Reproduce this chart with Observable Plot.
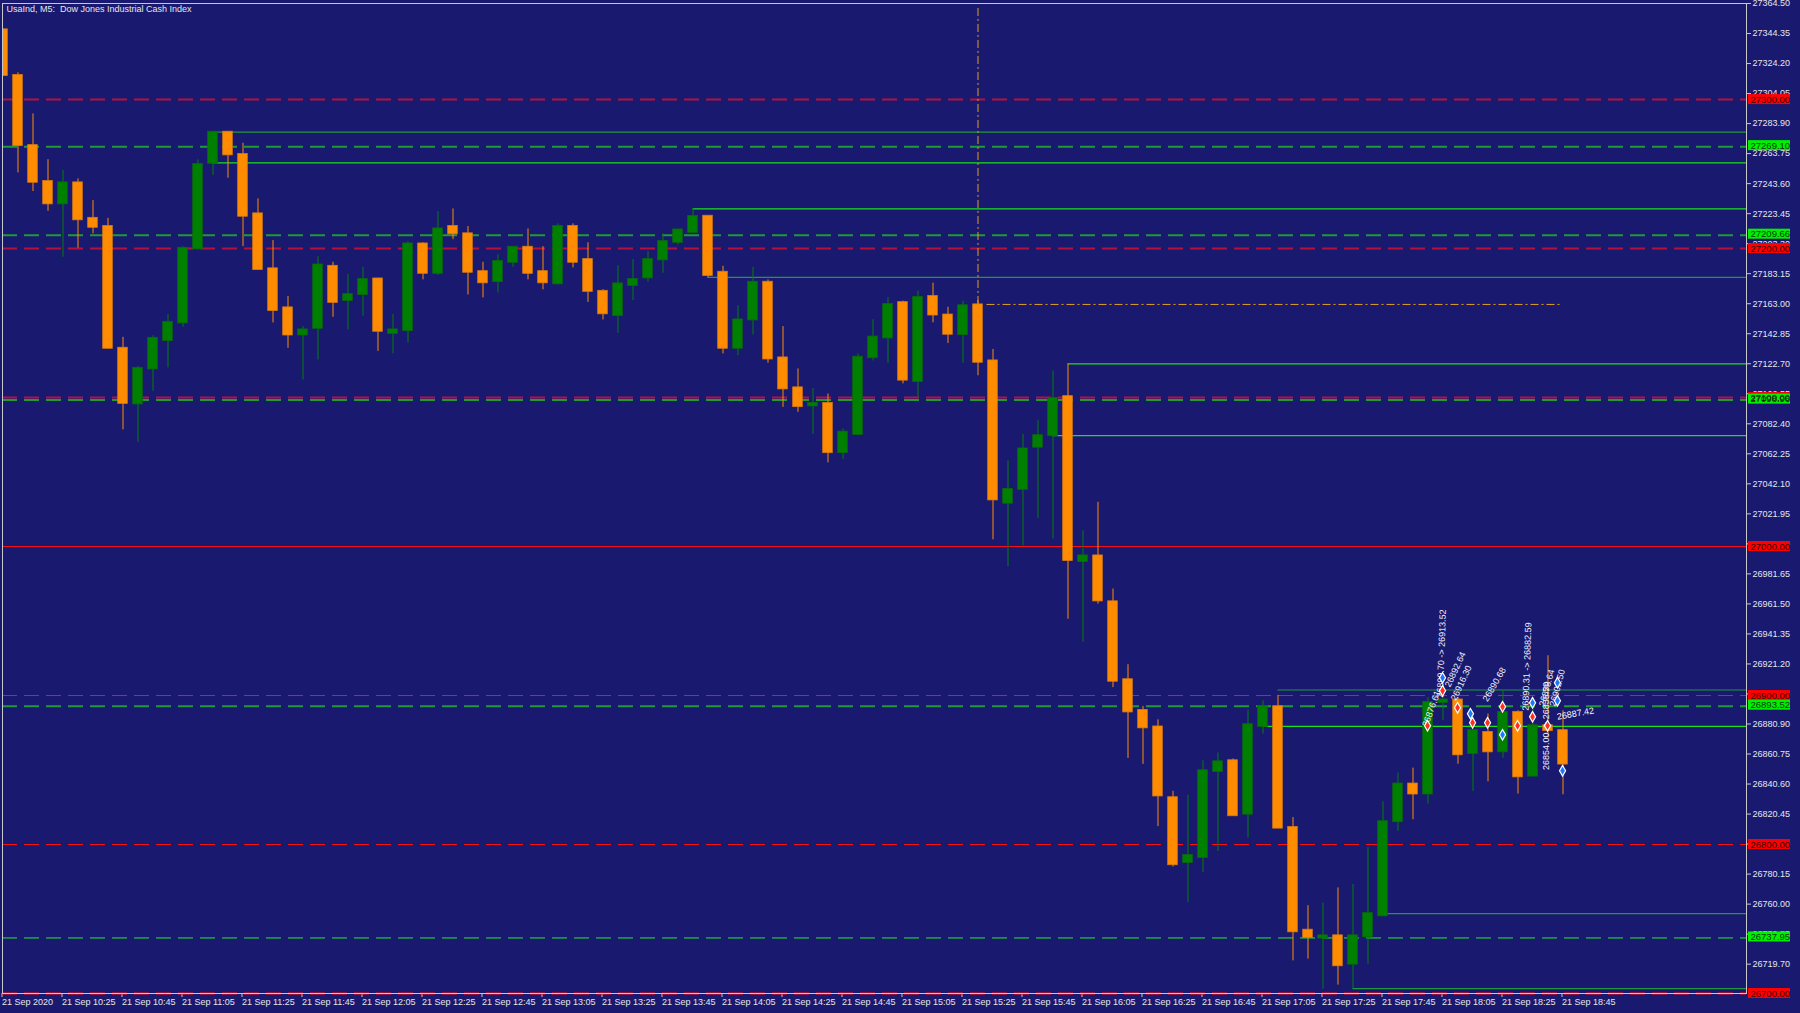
<!DOCTYPE html>
<html><head><meta charset="utf-8">
<script src="https://cdn.jsdelivr.net/npm/d3@7"></script>
<script src="https://cdn.jsdelivr.net/npm/@observablehq/plot@0.6"></script>
<style>
html,body{margin:0;padding:0;background:#191970;overflow:hidden}
#chart svg{display:block}
</style></head><body><div id="chart"></div>
<script>
// ---- data (UsaInd M5, 21 Sep 2020, 10:05 .. 18:45) ----
const opens = [27346.8,27316.2,27269.1,27245.0,27230.0,27244.1,27220.3,27214.8,27133.1,27095.7,
27119.2,27138.2,27150.1,27199.8,27257.3,27278.1,27263.1,27223.3,27186.4,27160.2,
27142.0,27146.5,27188.1,27165.1,27169.1,27179.6,27143.1,27144.9,27203.1,27183.4,
27214.8,27209.9,27184.5,27177.8,27190.8,27200.9,27184.5,27176.3,27214.8,27192.6,
27171.3,27155.0,27175.2,27180.3,27192.4,27204.2,27210.9,27221.7,27184.1,27133.1,
27152.1,27177.4,27126.6,27106.5,27094.4,27096.0,27063.0,27075.3,27126.7,27140.0,
27163.7,27110.8,27167.8,27155.4,27142.2,27162.2,27124.6,27029.1,27038.4,27066.7,
27074.4,27100.6,26990.0,26993.7,26962.9,26910.6,26890.0,26878.9,26831.4,26787.9,
26791.3,26849.0,26856.2,26820.4,26879.3,26892.5,26811.4,26742.5,26737.2,26738.7,
26719.7,26738.0,26752.1,26815.3,26840.6,26833.9,26895.4,26897.0,26861.1,26875.2,
26862.2,26888.7,26845.9,26879.7,26876.4];
const highs = [27347.5,27318.0,27290.4,27259.6,27252.4,27246.8,27232.2,27220.3,27140.4,27120.8,
27141.6,27155.7,27201.3,27259.6,27278.6,27278.6,27270.7,27233.4,27205.4,27167.8,
27147.6,27194.6,27190.8,27182.5,27187.4,27180.0,27155.7,27204.7,27203.9,27224.8,
27226.6,27214.8,27190.8,27195.8,27200.9,27213.2,27201.3,27216.6,27216.6,27203.9,
27172.4,27188.6,27192.6,27198.0,27209.9,27212.5,27226.6,27222.0,27188.1,27161.7,
27187.4,27179.0,27147.6,27119.2,27106.1,27102.4,27078.9,27129.2,27152.3,27167.1,
27164.7,27171.4,27176.8,27160.6,27164.7,27165.1,27132.3,27057.4,27075.3,27084.5,
27117.8,27122.4,27010.6,27029.7,26971.5,26920.7,26892.7,26883.7,26835.7,26833.0,
26856.2,26861.4,26857.4,26890.2,26896.5,26900.1,26818.1,26758.9,26760.7,26770.9,
26773.2,26798.0,26828.6,26848.0,26851.3,26898.7,26913.5,26898.7,26888.7,26887.6,
26903.7,26889.8,26898.7,26926.7,26889.8];
const lows = [27315.5,27250.8,27238.3,27225.0,27194.2,27200.2,27209.9,27132.6,27078.3,27069.9,
27104.2,27119.9,27147.2,27199.1,27249.0,27247.2,27201.3,27185.5,27150.1,27133.1,
27111.8,27125.3,27153.9,27145.4,27154.6,27131.0,27129.3,27136.7,27179.0,27181.9,
27206.0,27168.9,27166.9,27170.3,27187.4,27179.0,27172.3,27175.8,27187.0,27163.9,
27152.1,27143.1,27165.1,27177.4,27183.4,27202.5,27210.9,27180.3,27129.3,27128.1,
27142.0,27123.0,27093.4,27090.1,27075.3,27056.2,27058.4,27074.4,27124.6,27123.0,
27109.2,27099.9,27150.2,27136.3,27123.0,27114.6,27004.5,26986.6,27000.5,27018.9,
27005.1,26951.2,26935.8,26961.4,26905.3,26857.8,26853.8,26812.0,26784.9,26761.1,
26781.2,26795.3,26819.3,26804.4,26874.1,26811.0,26721.9,26723.1,26702.9,26705.6,
26703.3,26719.7,26752.1,26808.8,26816.6,26827.1,26883.1,26853.9,26835.6,26842.1,
26857.9,26833.9,26845.9,26871.6,26833.4];
const closes = [27316.2,27269.1,27244.5,27230.0,27244.1,27219.3,27214.3,27133.1,27096.1,27119.6,
27139.8,27150.5,27200.2,27256.4,27278.1,27262.9,27221.7,27185.9,27158.4,27142.0,
27145.4,27189.0,27163.9,27169.1,27179.2,27144.5,27145.4,27203.1,27183.4,27213.2,
27209.9,27184.1,27177.0,27191.3,27200.9,27183.4,27177.0,27214.8,27190.8,27171.3,
27156.2,27176.3,27179.2,27192.6,27204.7,27212.5,27221.5,27181.9,27133.1,27152.1,
27177.4,27125.9,27105.8,27093.9,27096.0,27063.0,27076.8,27127.1,27140.6,27162.5,
27111.7,27167.1,27155.4,27142.5,27161.6,27123.7,27031.3,27038.4,27065.5,27074.4,
27099.3,26990.6,26993.7,26963.5,26909.6,26889.0,26878.3,26832.6,26786.4,26792.6,
26849.5,26855.5,26819.3,26880.4,26892.7,26811.0,26741.4,26737.6,26738.7,26718.6,
26738.7,26753.6,26815.3,26840.6,26833.9,26895.4,26897.0,26860.2,26876.4,26862.2,
26888.7,26845.4,26879.7,26876.4,26854.0];

const xTickIdx = [0,4,8,12,16,20,24,28,32,36,40,44,48,52,56,60,64,68,72,76,80,84,88,92,96,100,104];
const xTickLabels = ["21 Sep 2020","21 Sep 10:25","21 Sep 10:45","21 Sep 11:05","21 Sep 11:25","21 Sep 11:45",
"21 Sep 12:05","21 Sep 12:25","21 Sep 12:45","21 Sep 13:05","21 Sep 13:25","21 Sep 13:45","21 Sep 14:05",
"21 Sep 14:25","21 Sep 14:45","21 Sep 15:05","21 Sep 15:25","21 Sep 15:45","21 Sep 16:05","21 Sep 16:25",
"21 Sep 16:45","21 Sep 17:05","21 Sep 17:25","21 Sep 17:45","21 Sep 18:05","21 Sep 18:25","21 Sep 18:45"];
const yTicks = [27364.50,27344.35,27324.20,27304.05,27283.90,27263.75,27243.60,27223.45,27203.30,27183.15,
27163.00,27142.85,27122.70,27102.55,27082.40,27062.25,27042.10,27021.95,27001.80,26981.65,26961.50,
26941.35,26921.20,26901.05,26880.90,26860.75,26840.60,26820.45,26800.30,26780.15,26760.00,26739.85,26719.70];

// horizontal price levels
const redDashLevels = [27300.00, 27200.00, 27100.00, 26900.00, 26800.00, 26700.00];
const redDashWidths = [2, 2, 2, 1, 1, 2];
const greenDashLevels = [27269.10, 27209.66, 27098.96, 26893.52, 26737.95];
const greenDashWidths = [2, 2, 2, 2, 1];
const redSolidLevels = [27000.00];
// box levels starting at a bar and running to the right edge
const boxStart = [14, 14, 46, 47, 71, 70, 85, 84, 92, 90];
const boxLevel = [27278.1, 27257.5, 27226.6, 27180.7, 27122.6, 27074.4, 26903.7, 26879.3, 26753.6, 26703.3];
const boxBright = [false, true, true, false, true, true, false, true, false, false];
// price labels on the right axis
const labelValues = [27300.00, 27269.10, 27209.66, 27200.00, 27100.00, 27098.96, 27000.00, 26900.00, 26893.52, 26800.00, 26737.95, 26700.00];
const labelKinds  = ["r","g","g","r","r","g","r","r","g","r","g","r"];
// crosshair-like dash-dot marker
const markBar = 65, markEndBar = 104, markPrice = 27162.5, markTop = 27362.5;
// trade annotations
const annI = [94.8, 95.8, 96.3, 96.7, 98.8, 101.5, 102.6, 103.3, 103.6, 102.9];
const annV = [26879.3, 26898.5, 26906.0, 26897.0, 26896.5, 26889.8, 26893.0, 26893.0, 26885.6, 26850.0];
const annT = ["26876.61","26899.70 -> 26913.52","26892.64","26916.30","26890.68","26890.31 -> 26882.59","26878.64","26902.50","26887.42","26854.00 -> 26835.50"];
const annR = [-70, -88, -65, -65, -60, -88, -75, -75, -10, -90];
const tradeI = [94.97,95.97,95.97,96.97,97.97,97.83,98.97,99.97,99.97,100.97,101.97,101.97,102.97,103.63,103.63,103.97];
const tradeV = [26879.7,26903.2,26911.9,26891.8,26881.7,26887.8,26881.7,26892.5,26873.7,26879.7,26885.7,26895.1,26879.7,26908.6,26896.5,26849.5];
const tradeSide = ["s","s","b","s","s","b","s","s","b","s","s","b","s","b","b","b"];

// ---- build tables ----
const candles = opens.map((o, i) => ({i, o, h: highs[i], l: lows[i], c: closes[i]}));
const ORANGE = "#ff8c00", GREEN = "#008000";
const col = d => d.c >= d.o ? GREEN : ORANGE;
const W = 1800, H = 1013, mL = 2, mR = 54, mT = 3, mB = 20;
const slot = 15;
const x0 = -(0.5 / slot);
const x1 = x0 + (W - mL - mR) / slot;
const xMax = x1;
const xLab1 = x0 + (1748 - mL) / slot, xLab2 = x0 + (1790 - mL) / slot;

const redDash = redDashLevels.map((v, k) => ({v, w: redDashWidths[k], c: k < 3 ? "#b4123c" : "#ff1010"}));
const greenDash = greenDashLevels.map((v, k) => ({v, w: greenDashWidths[k], c: k < 4 ? "#1f9a35" : "#22ee22"}));
const boxes = boxStart.map((s, k) => ({s, v: boxLevel[k], c: boxBright[k] ? "#19e019" : "#1f9a35"}));
const labels = labelValues.map((v, k) => ({v, k: labelKinds[k]}));
const ann = annI.map((i, k) => ({i, v: annV[k], t: annT[k], r: annR[k]}));
const trades = tradeI.map((i, k) => ({i, v: tradeV[k], s: tradeSide[k]}));

const chart = Plot.plot({
  width: W, height: H,
  marginLeft: mL, marginRight: mR, marginTop: mT, marginBottom: mB,
  style: {background: "#191970", color: "#e0e0e0", fontFamily: "Liberation Sans, Arial, sans-serif", fontSize: "9px"},
  x: {domain: [x0, x1], axis: null},
  y: {domain: [26700, 27364.5], axis: null},
  marks: [
    Plot.axisY(yTicks, {anchor: "right", tickSize: 4, tickPadding: 2, tickFormat: d => d.toFixed(2), fill: "#e6e6e6", stroke: "#c8c8c8", textAnchor: "start"}),
    Plot.axisX(xTickIdx, {anchor: "bottom", tickSize: 4, tickPadding: 1, tickFormat: (d) => xTickLabels[xTickIdx.indexOf(d)], textAnchor: "start", dx: -1, fill: "#e6e6e6", stroke: "#c8c8c8"}),
    // dashed levels
    Plot.ruleY(redSolidLevels, {stroke: "#ff1010", strokeWidth: 1}),
    Plot.ruleY(redDash, {y: "v", stroke: "c", strokeWidth: "w", strokeDasharray: "15,7"}),
    Plot.ruleY(greenDash, {y: "v", dy: 1, stroke: "c", strokeWidth: "w", strokeDasharray: "15,7"}),
    // box lines
    Plot.ruleY(boxes, {y: "v", x1: "s", x2: xMax, stroke: "c", strokeWidth: 1.2}),
    // marker line
    Plot.ruleX([markBar], {y1: markPrice, y2: markTop, stroke: "#e0a020", strokeWidth: 1, strokeDasharray: "8,3,2,3"}),
    Plot.ruleY([markPrice], {x1: markBar + 0.6, x2: markEndBar, stroke: "#e0a020", strokeWidth: 1, strokeDasharray: "8,3,2,3"}),
    // candles
    Plot.ruleX(candles, {x: "i", y1: "l", y2: "h", stroke: col, strokeWidth: 1, clip: true}),
    Plot.rect(candles, {x1: d => d.i - 0.32, x2: d => d.i + 0.32, y1: "o", y2: "c", insetTop: -0.5, insetBottom: -0.5,
      fill: col, stroke: d => d.c >= d.o ? "#0a6a0a" : "#d87a10", strokeWidth: 0.8, clip: true}),
    // trades
    Plot.text(ann, {x: "i", y: "v", text: "t", rotate: "r", textAnchor: "start", fill: "#f0f0ff", fontSize: 9}),
    Plot.dot(trades, {x: "i", y: "v", symbol: "diamond", r: 3.2, fill: d => d.s === "s" ? "#ff3020" : "#1e78ff", stroke: "white", strokeWidth: 1.2}),
    // frame
    Plot.frame({stroke: "#c8c8c8", strokeWidth: 1}),
    // price labels
    Plot.rect(labels, {x1: xLab1, x2: xLab2, y1: "v", y2: "v", insetTop: -5, insetBottom: -5,
      fill: d => d.k === "r" ? "#ff0000" : "#00f000", clip: false}),
    Plot.text(labels, {x: xLab1, y: "v", dx: 2, text: d => d.v.toFixed(2), textAnchor: "start",
      fill: d => d.k === "r" ? "#3a0000" : "#003a00", fontSize: 9.5}),
    // title
    Plot.text(["UsaInd, M5:  Dow Jones Industrial Cash Index"], {frameAnchor: "top-left", dx: 4, dy: 2, fill: "#e6e6e6", textAnchor: "start", lineAnchor: "top", fontSize: 9})
  ]
});
document.getElementById("chart").appendChild(chart);
</script>
</body></html>
